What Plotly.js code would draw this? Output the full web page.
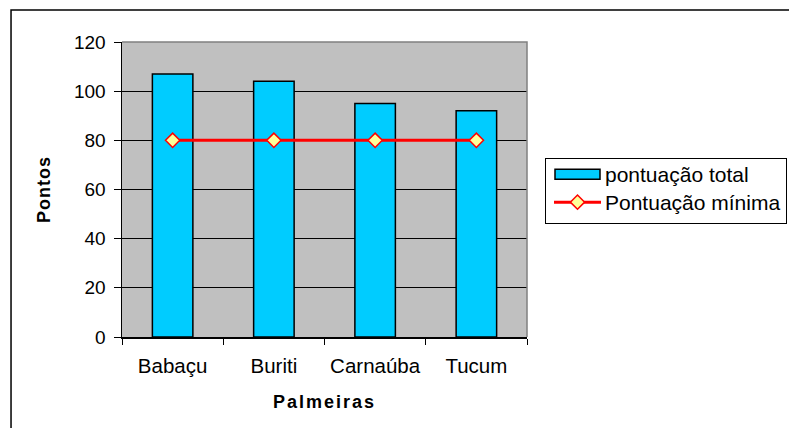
<!DOCTYPE html>
<html>
<head>
<meta charset="utf-8">
<script src="https://cdn.plot.ly/plotly-3.0.1.min.js"></script>
<style>
  html, body { margin: 0; padding: 0; background: #fff; }
  #chart { width: 789px; height: 428px; }
  .g-xtitle text { letter-spacing: 2px; }
  .g-ytitle text { letter-spacing: 1px; }
</style>
</head>
<body>
<div id="chart"></div>
<script>
// Palm species and their scores
const palmeiras = ['Babaçu', 'Buriti', 'Carnaúba', 'Tucum'];
const pontuacaoTotal = [107, 104, 95, 92];
const pontuacaoMinima = [80, 80, 80, 80];
const yTicks = [0, 20, 40, 60, 80, 100, 120];

const FONT = 'Liberation Sans, Arial, sans-serif';

const traces = [
  {
    type: 'bar',
    name: 'pontuação total',
    x: palmeiras,
    y: pontuacaoTotal,
    marker: { color: '#00CCFF', line: { color: '#000000', width: 1.5 } },
    hoverinfo: 'x+y'
  },
  {
    type: 'scatter',
    mode: 'lines+markers',
    name: 'Pontuação mínima',
    x: palmeiras,
    y: pontuacaoMinima,
    line: { color: '#FF0000', width: 3 },
    marker: {
      symbol: 'diamond',
      size: 11,
      color: '#FFFF99',
      line: { color: '#FF0000', width: 1.5 }
    }
  }
];

const layout = {
  width: 789,
  height: 428,
  margin: { l: 122, r: 262, t: 42, b: 91 },
  paper_bgcolor: '#FFFFFF',
  plot_bgcolor: '#C0C0C0',
  font: { family: FONT, color: '#000000', size: 18 },
  bargap: 0.6,
  showlegend: true,
  xaxis: {
    type: 'category',
    showline: true,
    linecolor: '#000000',
    linewidth: 1.5,
    showgrid: false,
    ticks: 'outside',
    tickson: 'boundaries',
    ticklen: 6,
    tickcolor: '#000000',
    tickwidth: 1,
    tickangle: 0,
    ticklabelstandoff: 10,
    tickfont: { family: FONT, size: 20.5 },
    title: {
      text: 'Palmeiras',
      font: { family: FONT, size: 18, weight: 'bold' },
      standoff: 19
    },
    automargin: false,
    fixedrange: true
  },
  yaxis: {
    range: [0, 120],
    tickvals: yTicks,
    ticktext: yTicks.map(String),
    showline: true,
    linecolor: '#000000',
    linewidth: 1.5,
    showgrid: true,
    gridcolor: '#000000',
    gridwidth: 1,
    zeroline: false,
    ticks: 'outside',
    ticklen: 7,
    tickcolor: '#000000',
    tickwidth: 1,
    ticklabelstandoff: 4,
    tickfont: { family: FONT, size: 19 },
    title: {
      text: 'Pontos',
      font: { family: FONT, size: 18, weight: 'bold' },
      standoff: 18
    },
    automargin: false,
    fixedrange: true
  },
  legend: {
    xref: 'container',
    yref: 'container',
    x: 545 / 789,
    y: (428 - 158) / 428,
    xanchor: 'left',
    yanchor: 'top',
    bgcolor: '#FFFFFF',
    bordercolor: '#000000',
    borderwidth: 1,
    itemwidth: 45,
    indentation: 4,
    font: { family: FONT, size: 21 },
    traceorder: 'normal'
  },
  shapes: [
    // outer chart frame
    {
      type: 'rect', xref: 'paper', yref: 'paper',
      x0: -0.274, x1: 1.7, y0: -0.4, y1: 1.1085,
      line: { color: '#000000', width: 1.5 },
      fillcolor: 'rgba(0,0,0,0)',
      layer: 'below'
    },
    // top and right edges of the plot area
    {
      type: 'path', xref: 'paper', yref: 'paper',
      path: 'M0,1 L1,1 L1,0',
      line: { color: '#808080', width: 1.5 },
      layer: 'above'
    }
  ]
};

function readTranslate(el) {
  const m = /translate\(\s*([-\d.e]+)[ ,]+([-\d.e]+)\s*\)/.exec(el.getAttribute('transform') || '');
  return m ? { x: parseFloat(m[1]), y: parseFloat(m[2]) } : { x: 0, y: 0 };
}

// Legend touch-ups: flat bar swatch, longer line key, tighter rows
function tidyLegend(gd) {
  const legend = gd.querySelector('.legend');
  if (!legend) return;
  const items = legend.querySelectorAll('.traces');
  items.forEach(function (item, i) {
    if (i === 0) {
      const sw = item.querySelector('.legendpoints path');
      if (sw) {
        const b = sw.getBBox();
        const cx = b.x + b.width / 2, cy = b.y + b.height / 2;
        sw.setAttribute('d',
          'M' + (cx - 22.5) + ',' + (cy + 5) + 'H' + (cx + 22.5) +
          'V' + (cy - 5) + 'H' + (cx - 22.5) + 'Z');
      }
    } else {
      const ln = item.querySelector('.legendlines path');
      if (ln) {
        const b = ln.getBBox();
        const cx = b.x + b.width / 2, cy = b.y + b.height / 2;
        ln.setAttribute('d', 'M' + (cx - 23.5) + ',' + cy + 'h47');
      }
    }
  });

  if (items.length === 2) {
    const rowGap = 28, lift = 5;
    const t0 = readTranslate(items[0]);
    const t1 = readTranslate(items[1]);
    const oldGap = t1.y - t0.y;
    items[0].setAttribute('transform', 'translate(' + t0.x + ',' + (t0.y - lift) + ')');
    items[1].setAttribute('transform', 'translate(' + t1.x + ',' + (t0.y - lift + rowGap) + ')');
    const bg = legend.querySelector('rect.bg');
    if (bg) {
      const h = parseFloat(bg.getAttribute('height'));
      bg.setAttribute('height', h - lift - (oldGap - rowGap));
    }
  }
}

Plotly.newPlot('chart', traces, layout, { displayModeBar: false, staticPlot: true })
  .then(tidyLegend);
</script>
</body>
</html>
